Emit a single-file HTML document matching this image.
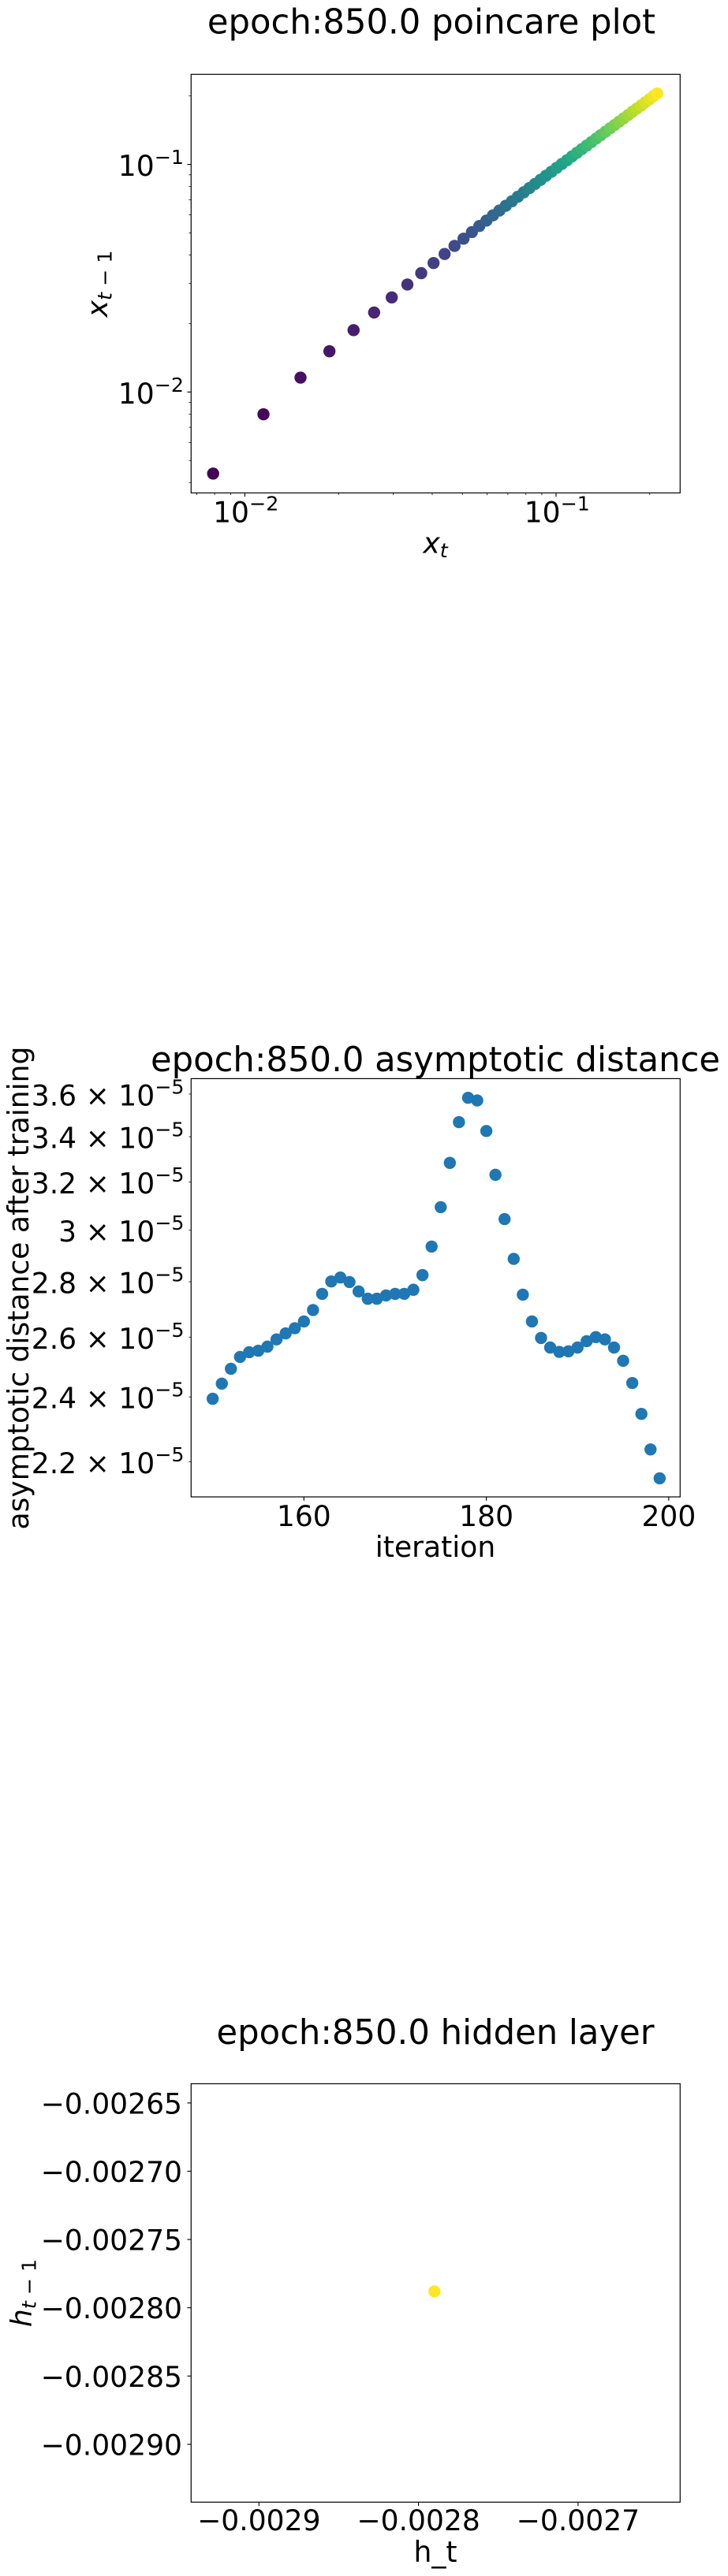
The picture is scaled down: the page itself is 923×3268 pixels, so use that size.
<!DOCTYPE html>
<html lang="en">
<head>
<meta charset="utf-8">
<title>epoch 850 plots</title>
<style>
html,body{margin:0;padding:0;background:#fff;}
svg{display:block;}
text{font-family:"DejaVu Sans","Liberation Sans",sans-serif;fill:#000;}
.title{font-size:43.3px;text-anchor:middle;}
.label{font-size:36.1px;text-anchor:middle;}
.tick{font-size:36.1px;}
</style>
</head>
<body>
<svg id="figure" xmlns="http://www.w3.org/2000/svg" width="923" height="3268" viewBox="0 0 923 3268">
  <rect x="0" y="0" width="923" height="3268" fill="#fff"/>

  <text class="title" x="547" y="42.7">epoch:850.0 poincare plot</text>
  <text class="label" x="552" y="701.7"><tspan font-style="italic">x</tspan><tspan font-style="italic" font-size="25.3" dy="5.4">t</tspan></text>
  <text class="label" transform="translate(136,360) rotate(-90)" x="0" y="0"><tspan font-style="italic">x</tspan><tspan font-style="italic" font-size="25.3" dy="5.4">t</tspan><tspan font-size="25.3"> − 1</tspan></text>

  <text class="title" x="552" y="1358.8">epoch:850.0 asymptotic distance</text>
  <text class="label" x="552" y="1975">iteration</text>
  <text class="label" transform="translate(36,1634) rotate(-90)" x="0" y="0">asymptotic distance after training</text>

  <text class="title" x="552" y="2593">epoch:850.0 hidden layer</text>
  <text class="label" x="552" y="3250">h_t</text>
  <text class="label" transform="translate(40,2909) rotate(-90)" x="0" y="0"><tspan font-style="italic">h</tspan><tspan font-style="italic" font-size="25.3" dy="5.4">t</tspan><tspan font-size="25.3"> − 1</tspan></text>

  <g id="layer"></g>
</svg>
<script>
const poincareX = [0.00791,0.01148,0.0151,0.0187,0.02236,0.02603,0.02966,0.03329,0.03688,0.0404,0.04385,0.04718,0.05043,0.05365,0.05669,0.05975,0.06271,0.06578,0.06892,0.07213,0.0754,0.07873,0.08211,0.08558,0.08917,0.09281,0.09656,0.1004,0.1043,0.1084,0.1125,0.1167,0.121,0.1254,0.1299,0.1345,0.1392,0.1441,0.1491,0.1542,0.1594,0.1648,0.1703,0.1759,0.1816,0.1876,0.1936,0.1997,0.2057,0.2114];
const poincareY = [0.00438,0.00798,0.01157,0.0151,0.0187,0.02236,0.02603,0.02966,0.03329,0.03688,0.0404,0.04385,0.04718,0.05043,0.05365,0.05669,0.05975,0.06271,0.06578,0.06892,0.07213,0.0754,0.07873,0.08211,0.08558,0.08917,0.09281,0.09656,0.1004,0.1043,0.1084,0.1125,0.1167,0.121,0.1254,0.1299,0.1345,0.1392,0.1441,0.1491,0.1542,0.1594,0.1648,0.1703,0.1759,0.1816,0.1876,0.1936,0.1997,0.205];
const poincareMajorExponents = [-2,-1];
const poincareXMinor = [0.007,0.008,0.009,0.02,0.03,0.04,0.05,0.06,0.07,0.08,0.09,0.2];
const poincareYMinor = [0.004,0.005,0.006,0.007,0.008,0.009,0.02,0.03,0.04,0.05,0.06,0.07,0.08,0.09,0.2];

const iterations = [150,151,152,153,154,155,156,157,158,159,160,161,162,163,164,165,166,167,168,169,170,171,172,173,174,175,176,177,178,179,180,181,182,183,184,185,186,187,188,189,190,191,192,193,194,195,196,197,198,199];
const distances = [2.394,2.443,2.492,2.532,2.548,2.553,2.567,2.592,2.613,2.631,2.655,2.696,2.755,2.801,2.816,2.799,2.764,2.737,2.737,2.749,2.755,2.755,2.77,2.825,2.935,3.094,3.283,3.467,3.582,3.569,3.426,3.231,3.045,2.887,2.752,2.655,2.597,2.564,2.549,2.551,2.564,2.586,2.6,2.592,2.564,2.519,2.445,2.346,2.237,2.152];
const distanceXTicks = [160,180,200];
const distanceYTicks = [2.2,2.4,2.6,2.8,3,3.2,3.4,3.6];
const distanceYTickLabels = ["2.2","2.4","2.6","2.8","3","3.2","3.4","3.6"];

const hiddenX = [-0.00279];
const hiddenY = [-0.002788];
const hiddenXTicks = [-0.0029,-0.0028,-0.0027];
const hiddenXTickLabels = ["−0.0029","−0.0028","−0.0027"];
const hiddenYTicks = [-0.00265,-0.0027,-0.00275,-0.0028,-0.00285,-0.0029];
const hiddenYTickLabels = ["−0.00265","−0.00270","−0.00275","−0.00280","−0.00285","−0.00290"];

const viridisStops = ["#440154","#482475","#414487","#355f8d","#2a788e","#21918c","#22a884","#44bf70","#7ad151","#bddf26","#fde725"];

const NS = "http://www.w3.org/2000/svg";
const layer = document.getElementById("layer");

const LEFT = 242.3, RIGHT = 862.3;
const P_TOP = 94.3, P_BOTTOM = 625.3;
const D_TOP = 1368.4, D_BOTTOM = 1899;
const H_TOP = 2643.5, H_BOTTOM = 3174.3;
const DOT_R = 7.7;

function poincareXScale(v){ return 310.4 + 394.6 * (Math.log10(v) + 2); }
function poincareYScale(v){ return 497.3 - 288.7 * (Math.log10(v) + 2); }
function distanceXScale(v){ return 385.3 + 11.565 * (v - 160); }
function distanceYScale(v){ return 1387.9 + 2182 * (Math.log10(3.6) - Math.log10(v)); }
function hiddenXScale(v){ return 530.6 + 2023000 * (v + 0.0028); }
function hiddenYScale(v){ return 2927.7 + 1732000 * (-0.0028 - v); }

function viridis(t){
  const p = Math.max(0, Math.min(1, t)) * (viridisStops.length - 1);
  const i = Math.min(Math.floor(p), viridisStops.length - 2);
  const f = p - i;
  const a = viridisStops[i], b = viridisStops[i + 1];
  const ch = function(s, o){ return parseInt(s.substr(o, 2), 16); };
  const mix = function(o){ return Math.round(ch(a, o) + (ch(b, o) - ch(a, o)) * f); };
  return "rgb(" + mix(1) + "," + mix(3) + "," + mix(5) + ")";
}
function makeLine(x1, y1, x2, y2, w){
  const el = document.createElementNS(NS, "line");
  el.setAttribute("x1", x1);
  el.setAttribute("y1", y1);
  el.setAttribute("x2", x2);
  el.setAttribute("y2", y2);
  el.setAttribute("stroke", "#000");
  el.setAttribute("stroke-width", w);
  layer.appendChild(el);
  return el;
}
function makeFrame(top, bottom){
  const el = document.createElementNS(NS, "rect");
  el.setAttribute("x", LEFT);
  el.setAttribute("y", top);
  el.setAttribute("width", RIGHT - LEFT);
  el.setAttribute("height", bottom - top);
  el.setAttribute("fill", "none");
  el.setAttribute("stroke", "#000");
  el.setAttribute("stroke-width", 1.2);
  layer.appendChild(el);
  return el;
}
function makeDot(cx, cy, fill){
  const el = document.createElementNS(NS, "circle");
  el.setAttribute("cx", cx);
  el.setAttribute("cy", cy);
  el.setAttribute("r", DOT_R);
  el.setAttribute("fill", fill);
  layer.appendChild(el);
  return el;
}
function makeTick(x, y, anchor, main, sup){
  const el = document.createElementNS(NS, "text");
  el.setAttribute("class", "tick");
  el.setAttribute("x", x);
  el.setAttribute("y", y);
  el.setAttribute("text-anchor", anchor);
  el.textContent = main;
  if (sup) {
    const s = document.createElementNS(NS, "tspan");
    s.setAttribute("font-size", "25.3");
    s.setAttribute("dy", "-15");
    s.textContent = sup;
    el.appendChild(s);
  }
  layer.appendChild(el);
  return el;
}

/* Poincare plot */
poincareMajorExponents.forEach(function(e){
  const px = poincareXScale(Math.pow(10, e));
  const py = poincareYScale(Math.pow(10, e));
  const xt = makeLine(px, P_BOTTOM, px, P_BOTTOM + 4.9, 1.1);
  
  
  const yt = makeLine(LEFT, py, LEFT - 4.9, py, 1.1);
  
  
  const xl = makeTick(px + 1.3, 662.7, "middle", "10", "−" + Math.abs(e));
  
  
  const yl = makeTick(233, py + 14.5, "end", "10", "−" + Math.abs(e));
  
  
});
poincareXMinor.forEach(function(v){
  const px = poincareXScale(v);
  const el = makeLine(px, P_BOTTOM, px, P_BOTTOM + 2.8, 0.8);
  
  
});
poincareYMinor.forEach(function(v){
  const py = poincareYScale(v);
  const el = makeLine(LEFT, py, LEFT - 2.8, py, 0.8);
  
  
});
poincareX.forEach(function(v, i){
  const el = makeDot(poincareXScale(v), poincareYScale(poincareY[i]), viridis(i / (poincareX.length - 1)));
  
  
});
const frame1 = makeFrame(P_TOP, P_BOTTOM);



/* Asymptotic distance */
distanceXTicks.forEach(function(v){
  const px = distanceXScale(v);
  const t = makeLine(px, D_BOTTOM, px, D_BOTTOM + 4.9, 1.1);
  
  
  const l = makeTick(px, 1936, "middle", String(v));
  
  
});
distanceYTicks.forEach(function(v, i){
  const py = distanceYScale(v);
  const t = makeLine(LEFT, py, LEFT - 2.8, py, 0.8);
  
  
  const l = makeTick(233.5, py + 14.5, "end", distanceYTickLabels[i] + " × 10", "−5");
  
  
});
iterations.forEach(function(v, i){
  const el = makeDot(distanceXScale(v), distanceYScale(distances[i]), "#1f77b4");
  
  
});
const frame2 = makeFrame(D_TOP, D_BOTTOM);



/* Hidden layer */
hiddenXTicks.forEach(function(v, i){
  const px = hiddenXScale(v);
  const t = makeLine(px, H_BOTTOM, px, H_BOTTOM + 4.9, 1.1);
  
  
  const l = makeTick(px, 3210, "middle", hiddenXTickLabels[i]);
  
  
});
hiddenYTicks.forEach(function(v, i){
  const py = hiddenYScale(v);
  const t = makeLine(LEFT, py, LEFT - 4.9, py, 1.1);
  
  
  const l = makeTick(231, py + 13.5, "end", hiddenYTickLabels[i]);
  
  
});
hiddenX.forEach(function(v, i){
  const el = makeDot(hiddenXScale(v), hiddenYScale(hiddenY[i]), "#fde725");
  
  
});
const frame3 = makeFrame(H_TOP, H_BOTTOM);


</script>
</body>
</html>
